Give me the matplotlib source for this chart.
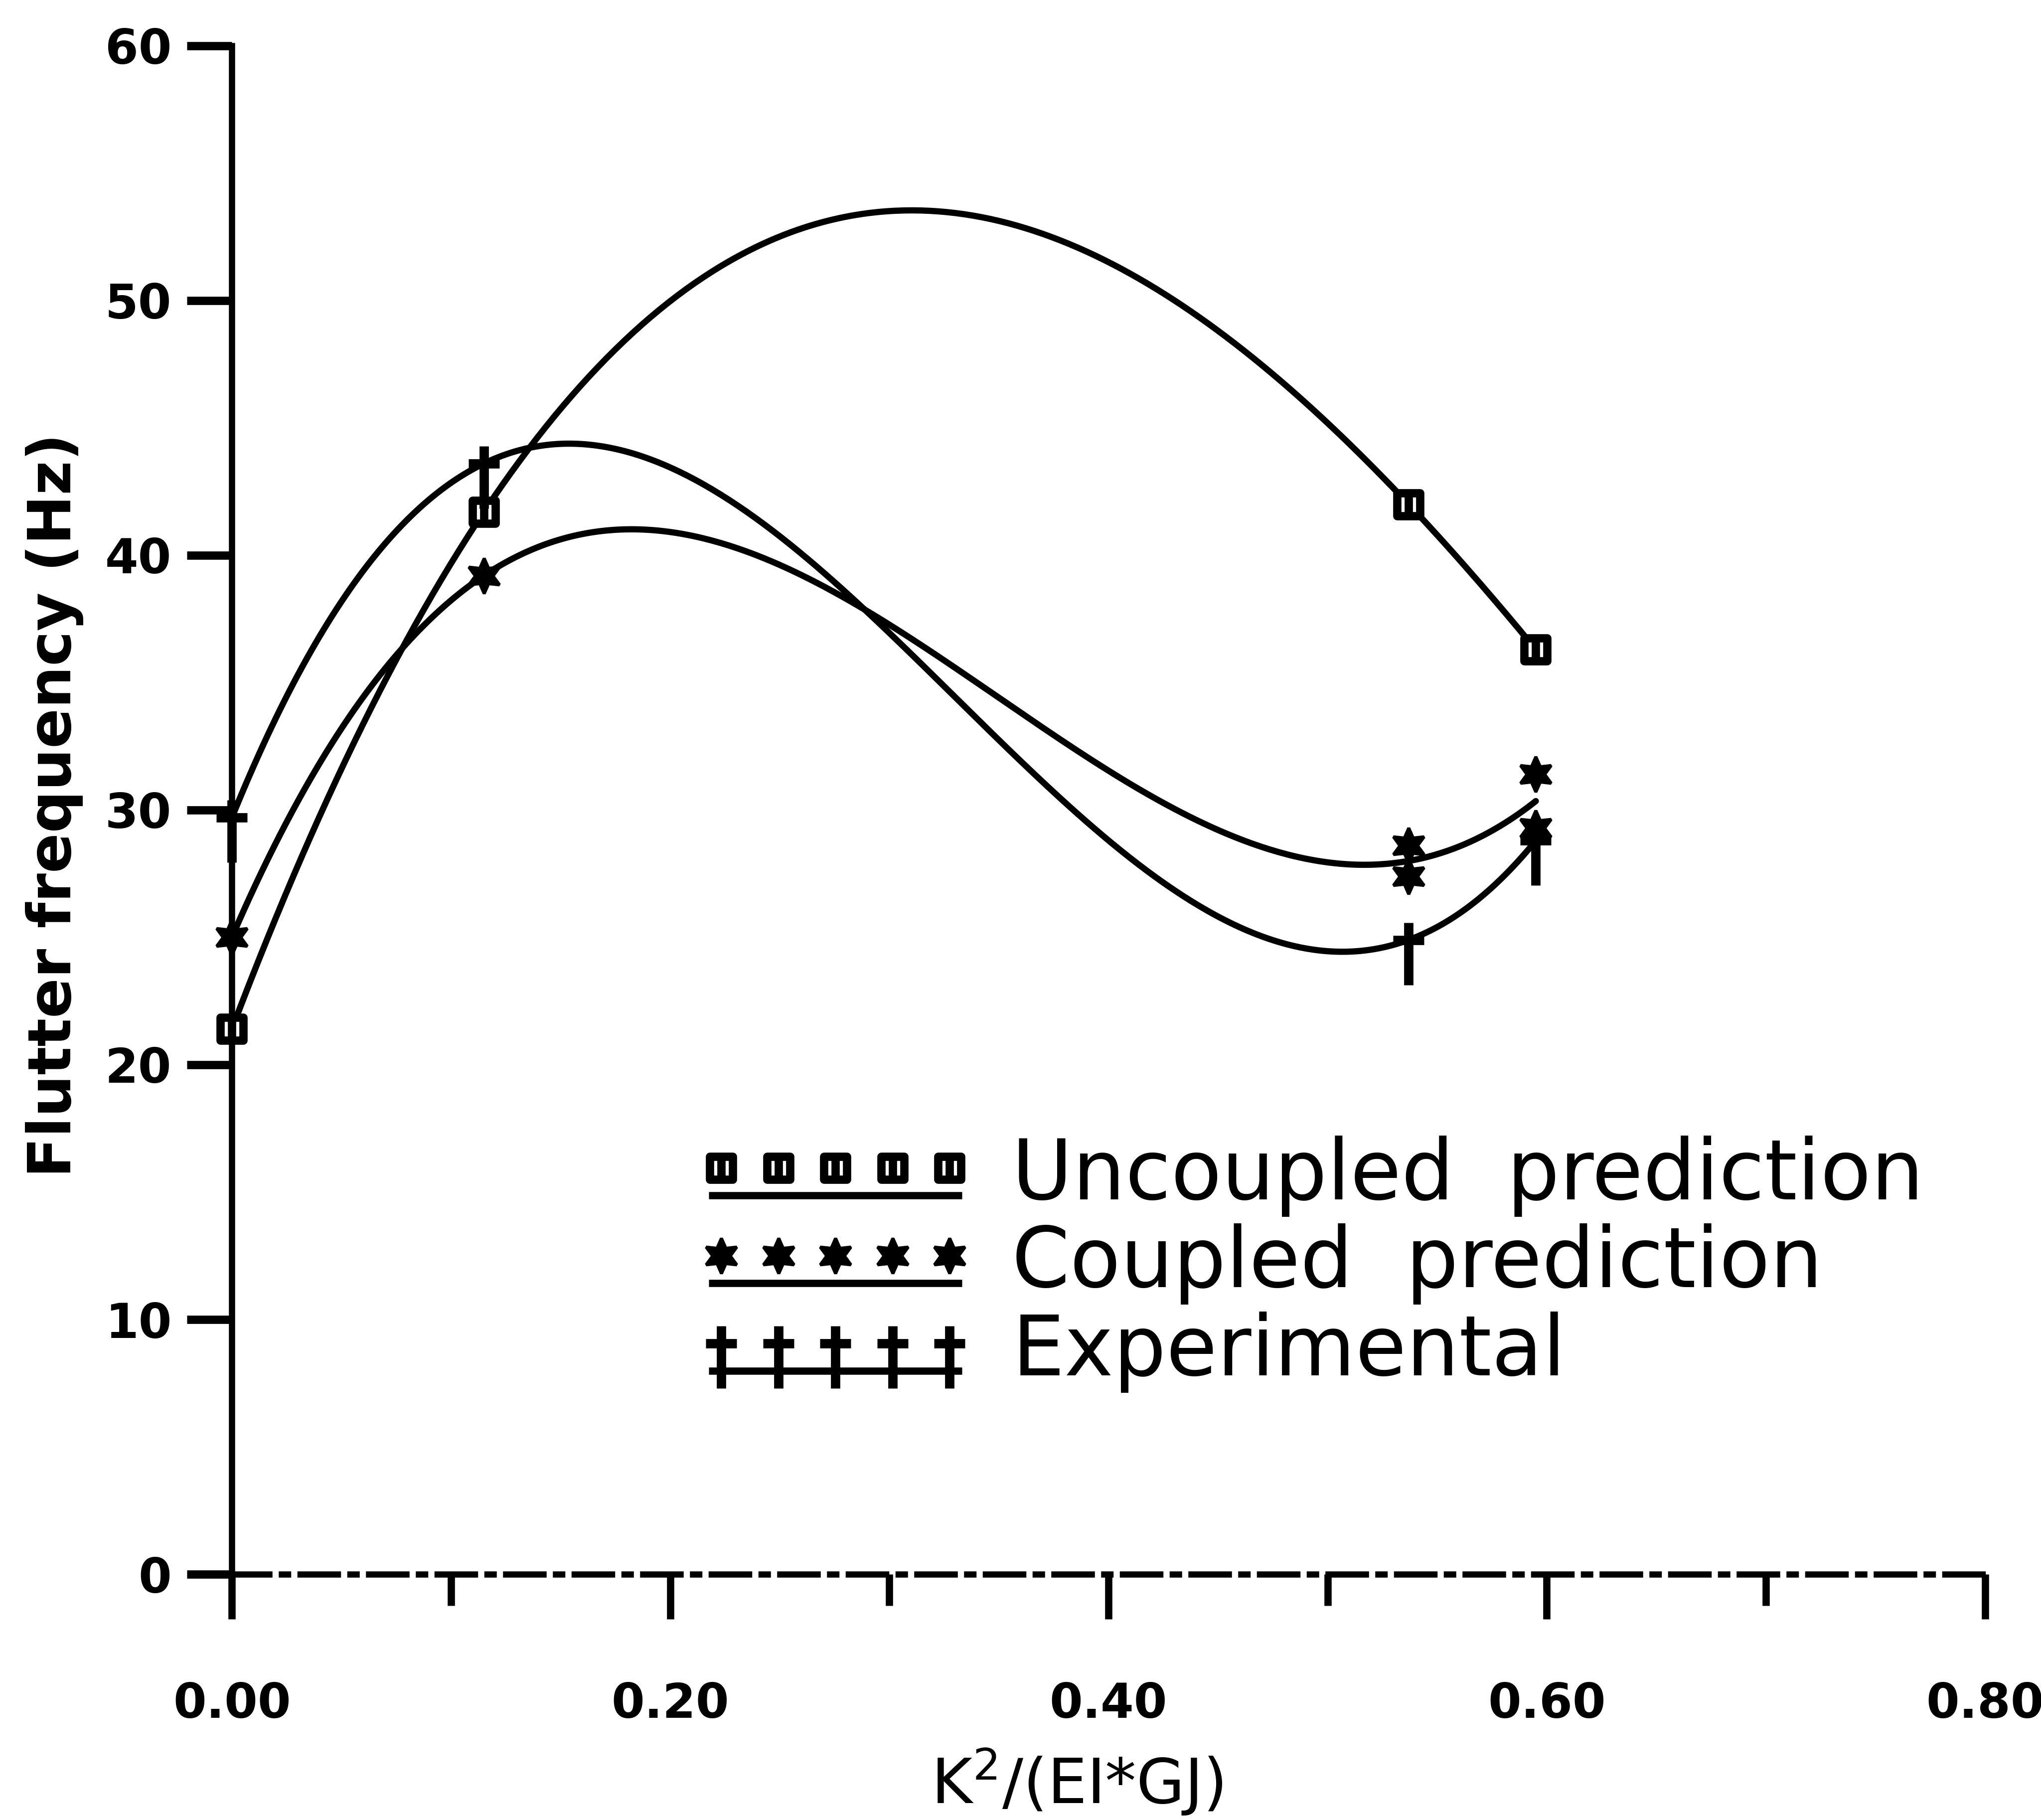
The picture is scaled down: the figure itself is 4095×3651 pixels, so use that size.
"""Flutter frequency against bending-torsion coupling."""

import numpy as np
import matplotlib
matplotlib.use('Agg')
from matplotlib import pyplot as plt
from matplotlib.path import Path
from matplotlib.lines import Line2D
from matplotlib.legend_handler import HandlerBase

# K^2/(EI*GJ) values and flutter frequencies (Hz)
uncoupled_x = [0.0, 0.115, 0.537, 0.595]
uncoupled_y = [21.4, 41.7, 42.0, 36.3]

coupled_x = [0.0, 0.115, 0.537, 0.537, 0.595, 0.595]
coupled_y = [25.0, 39.2, 28.6, 27.4, 31.4, 29.3]

exper_x = [0.0, 0.115, 0.537, 0.595]
exper_y = [29.7, 43.6, 24.9, 28.8]

x_ticks = [0.0, 0.2, 0.4, 0.6, 0.8]
x_minor = [0.1, 0.3, 0.5, 0.7]
x_tick_labels = ['0.00', '0.20', '0.40', '0.60', '0.80']
y_ticks = [0, 10, 20, 30, 40, 50, 60]
y_tick_labels = ['0', '10', '20', '30', '40', '50', '60']

# marker shapes
SQUARE_BAR = Path(
    [(-1, -1), (1, -1), (1, 1), (-1, 1), (-1, -1), (0, -1), (0, 1)],
    [Path.MOVETO, Path.LINETO, Path.LINETO, Path.LINETO, Path.CLOSEPOLY,
     Path.MOVETO, Path.LINETO])
DAGGER = Path(
    [(0, 0.39), (0, -1.0), (-0.35, 0.0), (0.35, 0.0)],
    [Path.MOVETO, Path.LINETO, Path.MOVETO, Path.LINETO])

styles = {
    'Uncoupled  prediction': dict(marker=SQUARE_BAR, ms=11, mfc='white',
                                  mec='black', mew=4),
    'Coupled  prediction': dict(marker=(6, 1, 0), ms=17, mfc='black',
                                mec='black', mew=1.5),
    'Experimental': dict(marker=DAGGER, ms=43, mfc='black', mec='black',
                         mew=4.5),
}


class RowOfMarkers(HandlerBase):
    """Five markers over an underline, like the old plotter legend."""

    def create_artists(self, legend, orig_handle, xdescent, ydescent,
                       width, height, fontsize, trans):
        x0 = -xdescent
        xs = np.linspace(x0 + 0.05 * width, x0 + 0.95 * width, 5)
        ym = np.full_like(xs, 0.38 * fontsize - ydescent)
        half = 0.05 * width
        under = Line2D([xs[0] - half, xs[-1] + half],
                       [0.05 * fontsize - ydescent] * 2,
                       color='black', lw=3.5, solid_capstyle='butt')
        marks = Line2D(xs, ym, linestyle='none',
                       marker=orig_handle.get_marker(),
                       markersize=orig_handle.get_markersize(),
                       markerfacecolor=orig_handle.get_markerfacecolor(),
                       markeredgecolor=orig_handle.get_markeredgecolor(),
                       markeredgewidth=orig_handle.get_markeredgewidth())
        under.set_transform(trans)
        marks.set_transform(trans)
        return [under, marks]


fig = plt.figure(figsize=(4095 / 300, 3651 / 300), dpi=300)
ax = fig.add_axes([0.1136, 0.1350, 0.8590, 0.8399])

series = [
    ('Uncoupled  prediction', uncoupled_x, uncoupled_y),
    ('Coupled  prediction', coupled_x, coupled_y),
    ('Experimental', exper_x, exper_y),
]

for name, xv, yv in series:
    coef = np.polyfit(xv, yv, 3)
    xs = np.linspace(min(xv), max(xv), 300)
    ax.plot(xs, np.polyval(coef, xs), color='black', lw=3,
            solid_capstyle='round', zorder=2)
    ax.plot(xv, yv, linestyle='none', clip_on=False, zorder=3,
            **styles[name])

ax.set_xlim(0, 0.8)
ax.set_ylim(0, 60)

ax.spines['top'].set_visible(False)
ax.spines['right'].set_visible(False)
ax.spines['left'].set_linewidth(3)
ax.spines['bottom'].set_linewidth(3)
ax.spines['bottom'].set_linestyle((0, (6, 2, 1, 2)))

ax.set_xticks(x_ticks)
ax.set_xticks(x_minor, minor=True)
ax.set_xticklabels(x_tick_labels, fontweight='bold')
ax.set_yticks(y_ticks)
ax.set_yticklabels(y_tick_labels, fontweight='bold')

ax.tick_params(axis='y', direction='out', length=21.6, width=4, pad=7.4,
               labelsize=23)
ax.tick_params(axis='x', which='major', direction='out', length=21.6,
               width=3.5, pad=30, labelsize=23)
ax.tick_params(axis='x', which='minor', direction='out', length=15,
               width=3.5)

ax.set_xlabel('K$^{2}$/(EI*GJ)', fontsize=30, va='baseline')
ax.xaxis.set_label_coords(0.482, -0.150)
ax.set_ylabel('Flutter frequency (Hz)', fontsize=28.5, fontweight='bold',
              va='center')
ax.yaxis.set_label_coords(-0.101, 0.503)

handles = [Line2D([], [], **styles[name]) for name, _, _ in series]
labels = [name for name, _, _ in series]
ax.legend(handles, labels, handler_map={Line2D: RowOfMarkers()},
          loc='upper left', bbox_to_anchor=(0.272, 0.287), frameon=False,
          fontsize=40, handlelength=3.05, handletextpad=0.6,
          labelspacing=0.08, borderpad=0, borderaxespad=0)

fig.savefig('out.png', dpi=300)
